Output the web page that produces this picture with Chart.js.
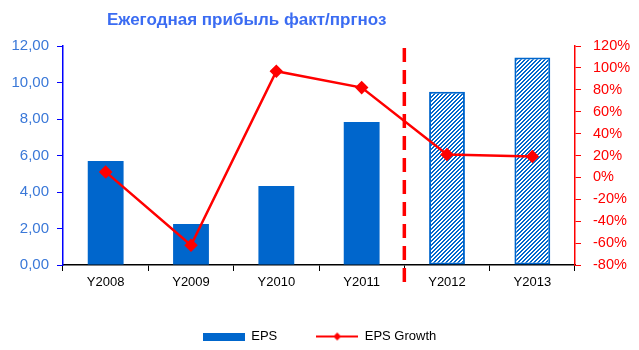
<!DOCTYPE html>
<html>
<head>
<meta charset="utf-8">
<script src="https://cdn.jsdelivr.net/npm/chart.js@4.4.1/dist/chart.umd.min.js"></script>
<style>
  body { margin: 0; background: #fff; }
  #wrap { position: relative; width: 639px; height: 350px; }
  #title {
    position: absolute; left: 107px; top: 10px;
    font: bold 17px "Liberation Sans", Arial, sans-serif; color: #3b6cf2;
    white-space: nowrap;
  }
</style>
</head>
<body>
<div id="wrap">
  <div id="title">Ежегодная прибыль факт/пргноз</div>
  <canvas id="chart" width="639" height="350"></canvas>
</div>
<script>
// chart data
const categories = ['Y2008', 'Y2009', 'Y2010', 'Y2011', 'Y2012', 'Y2013'];
const eps = [5.70, 2.25, 4.33, 7.84, 9.50, 11.37];
const epsGrowth = [5, -62, 97, 82, 21, 19];
const forecastStart = 4; // first forecast year index
const leftTicks = [0, 2, 4, 6, 8, 10, 12];
const rightTicks = [-80, -60, -40, -20, 0, 20, 40, 60, 80, 100, 120];

const blue = '#0066cc';
const red = '#ff0000';

function hatchPattern() {
  const c = document.createElement('canvas');
  c.width = 4; c.height = 4;
  const g = c.getContext('2d');
  g.fillStyle = '#fff';
  g.fillRect(0, 0, 4, 4);
  g.fillStyle = blue;
  for (let i = 0; i < 4; i++) {
    g.fillRect(i, 3 - i, 1, 1);
    g.fillRect((i + 1) % 4, 3 - i, 1, 1);
  }
  return document.getElementById('chart').getContext('2d').createPattern(c, 'repeat');
}

function epsIcon() {
  const c = document.createElement('canvas');
  c.width = 42; c.height = 8;
  const g = c.getContext('2d');
  g.fillStyle = blue;
  g.fillRect(0, 0, 42, 8);
  return c;
}

function growthIcon() {
  const c = document.createElement('canvas');
  c.width = 42; c.height = 10;
  const g = c.getContext('2d');
  g.strokeStyle = red; g.lineWidth = 2;
  g.beginPath(); g.moveTo(0, 5); g.lineTo(42, 5); g.stroke();
  g.fillStyle = red;
  g.beginPath(); g.moveTo(21, 1); g.lineTo(25, 5); g.lineTo(21, 9); g.lineTo(17, 5); g.closePath(); g.fill();
  return c;
}

const hatch = hatchPattern();
const barFill = eps.map((v, i) => i >= forecastStart ? hatch : blue);
const barBorder = eps.map((v, i) => i >= forecastStart ? 2 : 0);

// dashed separator between fact and forecast
const forecastLine = {
  id: 'forecastLine',
  afterDatasetsDraw(chart) {
    const x = chart.scales.x;
    const px = (x.getPixelForValue(forecastStart - 1) + x.getPixelForValue(forecastStart)) / 2;
    const ctx = chart.ctx;
    ctx.save();
    ctx.strokeStyle = red;
    ctx.lineWidth = 3.5;
    ctx.setLineDash([14, 8]);
    ctx.beginPath();
    ctx.moveTo(px, chart.chartArea.top + 2);
    ctx.lineTo(px, chart.chartArea.bottom + 24);
    ctx.stroke();
    ctx.restore();
  }
};

Chart.defaults.font.family = '"Liberation Sans", Arial, sans-serif';
Chart.defaults.animation = false;

new Chart(document.getElementById('chart'), {
  data: {
    labels: categories,
    datasets: [
      {
        type: 'line',
        label: 'EPS Growth',
        data: epsGrowth,
        yAxisID: 'y1',
        borderColor: red,
        backgroundColor: red,
        borderWidth: 2.5,
        pointStyle: 'rectRot',
        pointRadius: 5,
        pointHoverRadius: 5,
        tension: 0,
        order: 0
      },
      {
        type: 'bar',
        label: 'EPS',
        data: eps,
        yAxisID: 'y',
        backgroundColor: barFill,
        borderColor: blue,
        borderWidth: barBorder,
        borderSkipped: false,
        categoryPercentage: 1,
        barPercentage: 0.42,
        order: 1
      }
    ]
  },
  options: {
    responsive: false,
    layout: { padding: { top: 46, left: 0, right: 0, bottom: 0 } },
    plugins: {
      tooltip: { enabled: false },
      legend: {
        position: 'bottom',
        maxHeight: 59,
        labels: {
          usePointStyle: true,
          pointStyleWidth: 42,
          padding: 39,
          color: '#000',
          font: { size: 13 },
          generateLabels: () => [
            { text: 'EPS', pointStyle: epsIcon(), fontColor: '#000', lineWidth: 0, datasetIndex: 1 },
            { text: 'EPS Growth', pointStyle: growthIcon(), fontColor: '#000', lineWidth: 0, datasetIndex: 0 }
          ]
        }
      }
    },
    scales: {
      x: {
        offset: true,
        afterFit: s => { s.height = 26; },
        grid: { offset: true, drawOnChartArea: false, color: '#000', tickLength: 6 },
        border: { color: '#000', width: 1.5 },
        ticks: { color: '#000', font: { size: 13 }, padding: 4 }
      },
      y: {
        position: 'left',
        min: 0, max: 12,
        afterBuildTicks: s => { s.ticks = leftTicks.map(v => ({ value: v })); },
        afterFit: s => { s.width = 63; },
        grid: { drawOnChartArea: false, color: '#0000ff', tickLength: 6 },
        border: { color: '#0000ff', width: 1.5 },
        ticks: {
          color: '#3a78d8', font: { size: 15 }, padding: 8,
          callback: v => v.toFixed(2).replace('.', ',')
        }
      },
      y1: {
        position: 'right',
        min: -80, max: 120,
        afterBuildTicks: s => { s.ticks = rightTicks.map(v => ({ value: v })); },
        afterFit: s => { s.width = 64; },
        grid: { drawOnChartArea: false, color: red, tickLength: 6 },
        border: { color: red, width: 1.5 },
        ticks: {
          color: red, font: { size: 14.5 }, padding: 12,
          callback: v => v + '%'
        }
      }
    }
  },
  plugins: [forecastLine]
});
</script>
</body>
</html>
